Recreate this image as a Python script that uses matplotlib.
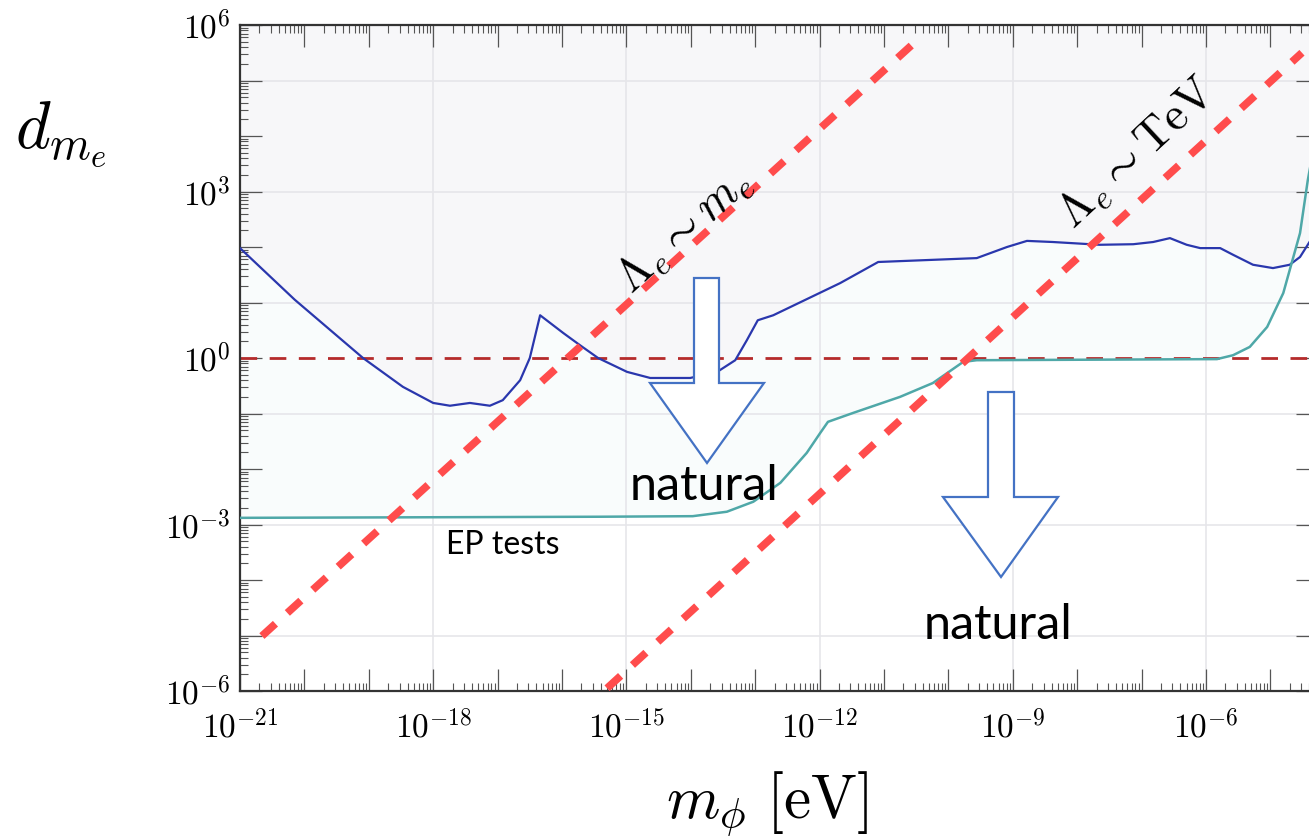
import numpy as np
import matplotlib
matplotlib.use('Agg')
import matplotlib.pyplot as plt
from matplotlib.patches import Polygon
from matplotlib.transforms import Affine2D
from matplotlib.ticker import LogLocator, FuncFormatter, NullFormatter

plt.rcParams['mathtext.fontset'] = 'cm'
plt.rcParams['font.family'] = ['DejaVu Serif']

# ---------------- data (log10 values) ----------------
blue_logm = [-21.0, -20.15, -19.09, -18.47, -18.0, -17.74, -17.43, -17.12, -16.92,
             -16.65, -16.50, -16.34, -15.98, -15.72, -15.44, -14.99, -14.63, -14.01,
             -13.59, -13.31, -13.13, -12.96, -12.72, -11.68, -11.09, -9.56, -9.09,
             -8.78, -8.38, -7.65, -7.13, -6.82, -6.56, -6.30, -6.09, -5.78, -5.58,
             -5.27, -4.96, -4.70, -4.54, -4.42, -4.20]
blue_logd = [1.98, 1.05, 0.0, -0.52, -0.81, -0.86, -0.81, -0.86, -0.76,
             -0.40, 0.0, 0.77, 0.45, 0.23, 0.0, -0.25, -0.36, -0.36,
             -0.25, -0.04, 0.32, 0.68, 0.77, 1.35, 1.73, 1.80, 2.0,
             2.11, 2.09, 2.04, 2.05, 2.09, 2.16, 2.04, 1.98, 1.98, 1.86,
             1.68, 1.62, 1.68, 1.82, 2.04, 2.45]

cyan_logm = [-21.0, -15.41, -13.97, -13.44, -13.03, -12.61, -12.20, -11.99, -11.87,
             -11.48, -10.75, -10.24, -9.77, -9.56, -5.83, -5.58, -5.32, -5.05,
             -4.80, -4.54, -4.42, -4.20]
cyan_logd = [-2.88, -2.86, -2.85, -2.77, -2.59, -2.25, -1.71, -1.35, -1.15,
             -0.99, -0.70, -0.45, -0.07, -0.04, -0.02, 0.05, 0.20, 0.56,
             1.17, 2.25, 3.20, 4.6]

nat_me_logm = [-20.66, -10.52]
nat_me_logd = [-5.01, 5.69]
nat_tev_logm = [-15.30, -4.51]
nat_tev_logd = [-5.95, 5.50]

ref_level = 1.0
xtick_exps = [-21, -18, -15, -12, -9, -6]
ytick_exps = [-6, -3, 0, 3, 6]
xgrid_exps = [-18, -15, -12, -9, -6]
ygrid_exps = [-5, -3, -1, 1, 3, 5]

# ---------------- figure ----------------
W, H = 1309, 840
fig = plt.figure(figsize=(W / 100, H / 100), dpi=100)
px0, px1, py0, py1 = 240, 1318, 25, 691
ax = fig.add_axes([px0 / W, 1 - py1 / H, (px1 - px0) / W, (py1 - py0) / H])
ax.set_xscale('log')
ax.set_yscale('log')
xmax_exp = -21 + (px1 - px0) / 64.4
ax.set_xlim(1e-21, 10 ** xmax_exp)
ax.set_ylim(1e-6, 1e6)
ax.set_facecolor('white')

# fills
g = np.linspace(-21, xmax_exp, 1200)
b = np.interp(g, blue_logm, blue_logd)
c = np.interp(g, cyan_logm, cyan_logd)
xg = 10 ** g
ax.fill_between(xg, 10 ** b, 1e6, color='#f7f7f9', lw=0, zorder=0.5)
ax.fill_between(xg, 10 ** c, 10 ** b, where=c < b, color='#f9fcfc', lw=0, zorder=0.5,
                interpolate=True)

# grid
for e in xgrid_exps:
    ax.axvline(10.0 ** e, color='#e6e6ea', lw=1.2, zorder=0.6)
for e in ygrid_exps:
    ax.axhline(10.0 ** e, color='#e6e6ea', lw=1.2, zorder=0.6)

# curves
ax.plot(10 ** np.array(blue_logm), 10 ** np.array(blue_logd), color='#2a37ad', lw=1.6, zorder=3)
ax.plot(10 ** np.array(cyan_logm), 10 ** np.array(cyan_logd), color='#4fa8a8', lw=1.8, zorder=3)
ax.axhline(ref_level, color='#b52b2b', lw=2.0, linestyle=(0, (6, 4.5)), zorder=2.5)

for lm, ld in [(nat_me_logm, nat_me_logd), (nat_tev_logm, nat_tev_logd)]:
    ax.plot(10 ** np.array(lm), 10 ** np.array(ld), color='#ff4c4c', lw=5.5,
            linestyle=(0, (2.4, 2.1)), dash_capstyle='butt', zorder=4)

# ticks
for axis in (ax.xaxis, ax.yaxis):
    axis.set_major_locator(LogLocator(base=10, numticks=60))
    axis.set_minor_locator(LogLocator(base=10, subs=np.arange(2, 10), numticks=600))
    axis.set_minor_formatter(NullFormatter())
ax.xaxis.set_major_formatter(FuncFormatter(
    lambda v, p: r'$10^{%d}$' % round(np.log10(v)) if round(np.log10(v)) in xtick_exps else ''))
ax.yaxis.set_major_formatter(FuncFormatter(
    lambda v, p: r'$10^{%d}$' % round(np.log10(v)) if round(np.log10(v)) in ytick_exps else ''))
ax.tick_params(which='both', direction='in', top=True, right=True, color='#555555')
ax.tick_params(which='major', length=16, width=0.9, labelsize=24)
ax.tick_params(which='minor', length=6, width=0.8)
ax.tick_params(axis='x', which='major', pad=14)
ax.tick_params(axis='y', which='major', pad=7)
for s in ax.spines.values():
    s.set_color('#333333')
    s.set_linewidth(1.6)

# helper: figure pixel coordinates (origin top-left)
pix = Affine2D().scale(1 / W, -1 / H).translate(0, 1) + fig.transFigure

# axis labels
fig.text(15, 148, r'$d_{m_e}$', transform=pix, fontsize=48, ha='left', va='baseline')
fig.text(767, 818, r'$m_\phi\ [\mathrm{eV}]$', transform=pix, fontsize=44, ha='center', va='baseline')

# rotated labels
fig.text(684, 230, r'$\Lambda_e \sim m_e$', transform=pix, fontsize=34, rotation=42,
         ha='center', va='center', rotation_mode='anchor', zorder=6)
fig.text(1137, 153, r'$\Lambda_e \sim \mathrm{TeV}$', transform=pix, fontsize=34, rotation=43,
         ha='center', va='center', rotation_mode='anchor', zorder=6)

# annotations
fig.text(503, 545, 'EP tests', transform=pix, fontsize=23, family='Lato',
         ha='center', va='center', zorder=6)
fig.text(704, 486, 'natural', transform=pix, fontsize=35, family='Lato',
         ha='center', va='center', zorder=6)
fig.text(998, 625, 'natural', transform=pix, fontsize=35, family='Lato',
         ha='center', va='center', zorder=6)


def block_arrow(xl, xr, ytop, ybase, hl, hr, xtip, ytip):
    pts = [(xl, ytop), (xr, ytop), (xr, ybase), (hr, ybase), (xtip, ytip),
           (hl, ybase), (xl, ybase)]
    p = Polygon(pts, closed=True, transform=pix, facecolor='white',
                edgecolor='#4472c4', lw=1.6, zorder=5)
    fig.add_artist(p)


block_arrow(694, 719, 278, 383, 650, 764, 707, 463)
block_arrow(988, 1014, 392, 497, 943, 1058, 1001, 577)

fig.savefig('out.png', dpi=100)
